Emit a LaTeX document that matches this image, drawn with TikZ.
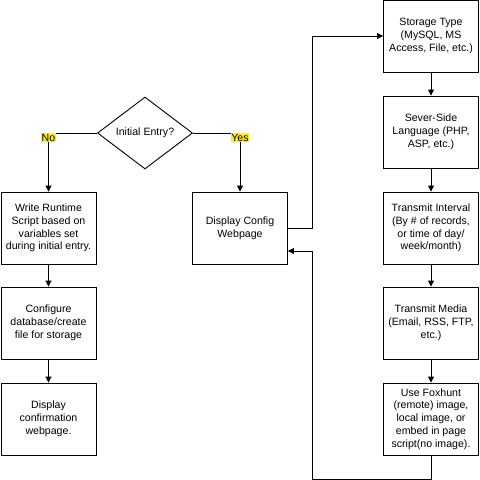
\documentclass[tikz,border=0pt]{standalone}
\usepackage{fontspec}
\setmainfont{Liberation Sans}
\usetikzlibrary{shapes.geometric,arrows.meta}
\begin{document}
\begin{tikzpicture}[x=1pt,y=-1pt,
  every node/.style={font=\fontsize{10.6}{12.8}\selectfont},
  box/.style={draw, line width=0.9pt, rectangle, minimum width=95pt, minimum height=72pt, inner sep=1pt, align=center},
  dec/.style={draw, line width=0.9pt, diamond, aspect=1.333, minimum width=95pt, minimum height=72pt, inner sep=0pt},
  arr/.style={line width=0.9pt, -{Triangle[length=6pt,width=6pt]}},
  lab/.style={fill=yellow, inner sep=0.6pt, anchor=north}]
\useasboundingbox (0,0) rectangle (480,480);
\node[dec] (d) at (145,133) {Initial Entry?};
\node[box] (w1) at (48.5,228) {Write Runtime\\Script based on\\variables set\\during initial entry.};
\node[box] (w2) at (48.5,323) {Configure\\database/create\\file for storage};
\node[box] (w3) at (48.5,419) {Display\\confirmation\\webpage.};
\node[box] (dc) at (240,228) {Display Config\\Webpage};
\node[box] (s1) at (431,36) {Storage Type\\(MySQL, MS\\Access, File, etc.)};
\node[box] (s2) at (431,132) {Sever-Side\\Language (PHP,\\ASP, etc.)};
\node[box] (s3) at (431,228) {Transmit Interval\\(By \# of records,\\or time of day/\\week/month)};
\node[box] (s4) at (431,323) {Transmit Media\\(Email, RSS, FTP,\\etc.)};
\node[box] (s5) at (431,419) {Use Foxhunt\\(remote) image,\\local image, or\\embed in page\\script(no image).};
\coordinate (up) at (312.5,228);
\coordinate (lb) at (312.5,479);
\draw[arr] (d.west) -| node[lab, pos=0.5] (no) {No} (w1.north);
\draw[arr] (d.east) -| node[lab, pos=0.5] (yes) {Yes} (dc.north);
\draw[arr] (w1) -- (w2);
\draw[arr] (w2) -- (w3);
\draw[arr] (dc.east) -- (up) |- (s1.west);
\draw[arr] (s1) -- (s2);
\draw[arr] (s2) -- (s3);
\draw[arr] (s3) -- (s4);
\draw[arr] (s4) -- (s5);
\draw[arr] (s5.south) |- (lb) |- ([yshift=-23pt]dc.east);
\end{tikzpicture}
\end{document}
